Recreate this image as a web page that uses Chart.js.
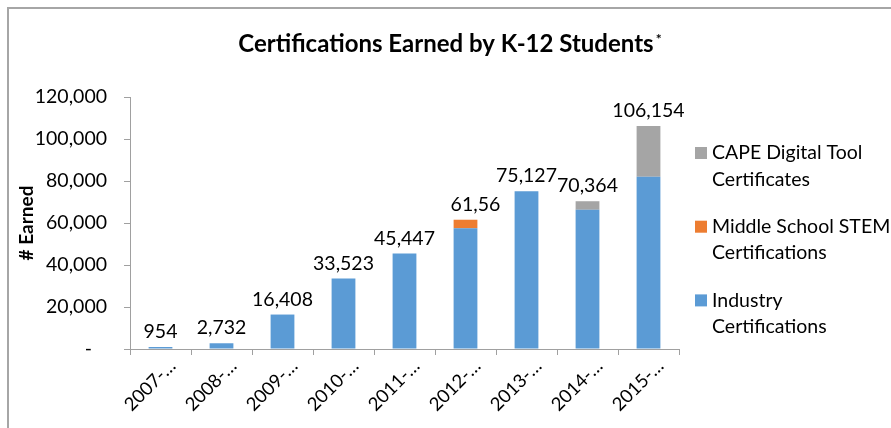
<!DOCTYPE html>
<html><head><meta charset="utf-8">
<script src="https://cdn.jsdelivr.net/npm/chart.js@4"></script>
<style>html,body{margin:0;padding:0;background:#fff;}canvas{display:block;}</style>
</head><body>
<canvas id="c" width="891" height="428"></canvas>
<script>
const categories = ['2007-…','2008-…','2009-…','2010-…','2011-…','2012-…','2013-…','2014-…','2015-…'];
const industryCerts = [954, 2732, 16408, 33523, 45447, 57500, 75127, 66300, 82000];
const middleSchoolStem = [null, null, null, null, null, 4060, null, null, null];
const capeDigitalTool = [null, null, null, null, null, null, null, 4064, 24154];
const totalLabels = ['954','2,732','16,408','33,523','45,447','61,56','75,127','70,364','106,154'];
const seriesNames = ['Industry\nCertifications', 'Middle School STEM\nCertifications', 'CAPE Digital Tool\nCertificates'];
const chartTitle = 'Certifications Earned by K-12 Students';
const titleNote = '*';
const yAxisTitle = '# Earned';
const yMax = 120000, yStep = 20000;

const FONT = 'Lato';
const AXIS = '#a0a0a0';
const fmt = v => v.toLocaleString('en-US');

const framePlugin = {
  id: 'frame',
  beforeDraw(chart) {
    const ctx = chart.ctx;
    ctx.save();
    ctx.fillStyle = '#fff';
    ctx.fillRect(0, 0, chart.width, chart.height);
    ctx.strokeStyle = '#a6a6a6';
    ctx.lineWidth = 2;
    ctx.beginPath();
    ctx.moveTo(8, chart.height);
    ctx.lineTo(8, 8);
    ctx.lineTo(chart.width, 8);
    ctx.stroke();
    ctx.restore();
  },
  afterDraw(chart) {
    const ctx = chart.ctx;
    ctx.save();
    ctx.fillStyle = '#000';
    ctx.font = 'bold 24px ' + FONT;
    ctx.textBaseline = 'alphabetic';
    ctx.textAlign = 'center';
    const cx = 446;
    ctx.fillText(chartTitle, cx, 52);
    const w = ctx.measureText(chartTitle).width;
    ctx.font = 'bold 14px ' + FONT;
    ctx.textAlign = 'left';
    ctx.fillText(titleNote, cx + w / 2 + 2, 44);
    // legend
    const ds = chart.data.datasets;
    const lx = 695, tx = 712;
    let y = 153;
    ctx.font = '19.5px ' + FONT;
    ctx.textBaseline = 'middle';
    for (let i = ds.length - 1; i >= 0; i--) {
      ctx.fillStyle = ds[i].backgroundColor;
      ctx.fillRect(lx, y - 6, 12, 12);
      ctx.fillStyle = '#000';
      const lines = ds[i].label.split('\n');
      lines.forEach((ln, k) => ctx.fillText(ln, tx, y + k * 26.3));
      y += 73.7;
    }
    ctx.restore();
  },
  afterDatasetsDraw(chart) {
    const ctx = chart.ctx;
    const ys = chart.scales.y;
    const meta0 = chart.getDatasetMeta(0);
    ctx.save();
    ctx.fillStyle = '#000';
    ctx.font = '19.5px ' + FONT;
    ctx.textBaseline = 'alphabetic';
    categories.forEach((c, i) => {
      const total = chart.data.datasets.reduce((s, d) => s + (d.data[i] || 0), 0);
      const bar = meta0.data[i];
      const yTop = ys.getPixelForValue(total);
      const full = fmt(total);
      const shown = totalLabels[i];
      if (shown === full) {
        ctx.textAlign = 'center';
        ctx.fillText(shown, bar.x, yTop - 9);
      } else {
        ctx.textAlign = 'left';
        ctx.fillText(shown, bar.x - bar.width / 2 - 3, yTop - 9);
      }
    });
    ctx.restore();
  }
};

new Chart(document.getElementById('c'), {
  type: 'bar',
  data: {
    labels: categories,
    datasets: [
      { label: seriesNames[0], data: industryCerts, backgroundColor: '#5b9bd5' },
      { label: seriesNames[1], data: middleSchoolStem, backgroundColor: '#ed7d31' },
      { label: seriesNames[2], data: capeDigitalTool, backgroundColor: '#a5a5a5' }
    ]
  },
  options: {
    responsive: false,
    animation: false,
    devicePixelRatio: 1,
    layout: { padding: { top: 97, right: 212, left: 0, bottom: 0 } },
    datasets: { bar: { categoryPercentage: 1, barPercentage: 0.39 } },
    plugins: { legend: { display: false }, title: { display: false }, tooltip: { enabled: false } },
    scales: {
      x: {
        stacked: true,
        afterFit(s) { s.height = 79; },
        grid: { display: true, offset: true, drawOnChartArea: false, drawTicks: true, tickLength: 6, color: AXIS },
        border: { display: true, color: AXIS, width: 1 },
        ticks: { color: '#000', font: { family: FONT, size: 18.5 }, minRotation: 45, maxRotation: 45, autoSkip: false, padding: 0, labelOffset: 12 }
      },
      y: {
        stacked: true,
        min: 0, max: yMax,
        afterFit(s) { s.width = 130; },
        grid: { display: true, drawOnChartArea: false, drawTicks: true, tickLength: 6, color: AXIS },
        border: { display: true, color: AXIS, width: 1 },
        ticks: { stepSize: yStep, color: '#000', font: { family: FONT, size: 19.5 }, padding: 17,
          callback: v => v === 0 ? '-   ' : fmt(v) },
        title: { display: true, text: yAxisTitle, color: '#000', font: { family: FONT, size: 19, weight: 'bold' }, padding: { top: 15, bottom: 0 } }
      }
    }
  },
  plugins: [framePlugin]
});
</script>
</body></html>
